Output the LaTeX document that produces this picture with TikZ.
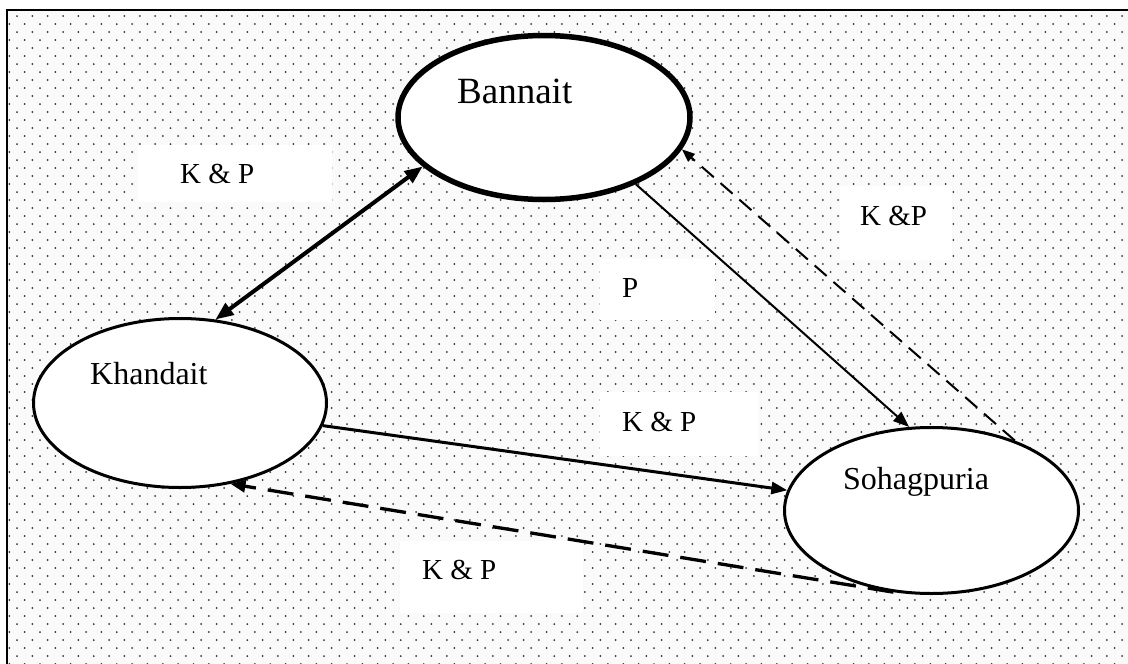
\documentclass[tikz,border=0pt]{standalone}
\usepackage{fontspec}
\setmainfont{Liberation Serif}
\usetikzlibrary{arrows.meta,shapes.geometric}
\begin{document}
\begin{tikzpicture}[x=1pt,y=-1pt,
  caste/.style={ellipse, draw, fill=white, inner sep=0pt},
  lblbox/.style={rectangle, fill=white, inner sep=0pt, anchor=north west},
  lbl/.style={anchor=base west, inner sep=0pt, font=\fontsize{29}{32}\selectfont},
  cname/.style={anchor=base west, inner sep=0pt},
]
\useasboundingbox (0,0) rectangle (1128,664);
\fill[white] (0,0) rectangle (1128,664);
\begin{scope}
  \clip (7,10) rectangle (1128,664);
  \fill[black!2] (7,10) rectangle (1128,664);
  \foreach \r in {0,...,41} {
    \fill[black!80] \foreach \c in {0,...,73} { (17+15.35*\c, 16+16*\r) circle (1pt) };
    \fill[black!80] \foreach \c in {0,...,73} { (9.3+15.35*\c, 24+16*\r) circle (1pt) };
  }
\end{scope}
\draw[line width=2pt] (7,10) rectangle (1140,680);

% label boxes
\node[lblbox, minimum width=194pt, minimum height=57pt] (b1) at (138,145) {};
\node[lblbox, minimum width=112pt, minimum height=74pt] (b2) at (840,186) {};
\node[lblbox, minimum width=115pt, minimum height=61pt] (b3) at (600,259) {};
\node[lblbox, minimum width=158pt, minimum height=64pt] (b4) at (600,392) {};
\node[lblbox, minimum width=183pt, minimum height=72pt] (b5) at (400,541) {};
\node[lbl] (l1) at (180,183) {K \& P};
\node[lbl] (l2) at (860,225) {K \&P};
\node[lbl] (l3) at (622,297) {P};
\node[lbl] (l4) at (622,431) {K \& P};
\node[lbl] (l5) at (422,579) {K \& P};

% castes
\node[caste, line width=5.5pt, minimum width=292pt, minimum height=164pt] (B) at (544,117.5) {};
\node[caste, line width=3pt, minimum width=294pt, minimum height=166pt] (S) at (931.5,510.5) {};
\node[caste, line width=3pt, minimum width=293pt, minimum height=169pt] (K) at (180,403) {};
\node[cname, font=\fontsize{37}{40}\selectfont] (tB) at (457,103) {Bannait};
\node[cname, font=\fontsize{32}{36}\selectfont] (tS) at (843,489) {Sohagpuria};
\node[cname, font=\fontsize{32}{36}\selectfont] (tK) at (90,384) {Khandait};

% connectors
\draw[line width=4pt, {Triangle[length=18pt,width=14pt]}-{Triangle[length=18pt,width=14pt]}] (K.67.6) -- (B.202.4);
\draw[line width=2pt, -{Triangle[length=16pt,width=12pt]}] (B.324.7) -- (S.105.1);
\draw[line width=2pt, dash pattern=on 16pt off 9pt, -{Triangle[length=13pt,width=10pt]}] (S.40.7) -- (B.347.6);
\draw[line width=3pt, -{Triangle[length=16pt,width=12pt]}] (K.351.1) -- (S.172.2);
\draw[line width=3.3pt, dash pattern=on 26pt off 12pt, -{Triangle[length=15pt,width=12pt]}] (S.245.4) -- (K.302.6);
\end{tikzpicture}
\end{document}
